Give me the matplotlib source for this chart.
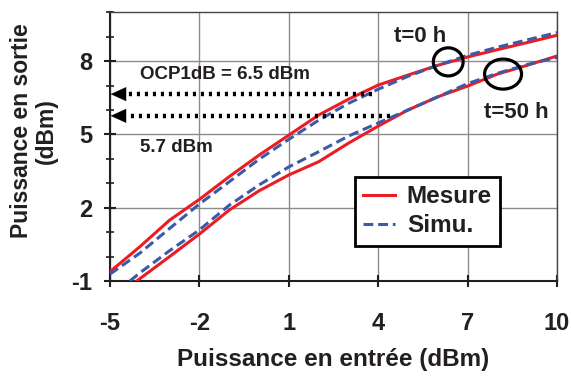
import numpy as np
import matplotlib.pyplot as plt
from matplotlib.patches import Ellipse

plt.rcParams['font.family'] = ['Liberation Sans', 'DejaVu Sans']
plt.rcParams['font.weight'] = 'bold'
plt.rcParams['axes.labelweight'] = 'bold'
plt.rcParams['axes.unicode_minus'] = False

# Data
x_in = [-5, -4, -3, -2, -1, 0, 1, 2, 3, 4, 5, 6, 7, 8, 9, 10]

mes_t0 = [-0.62, 0.40, 1.49, 2.34, 3.27, 4.15, 4.97, 5.79, 6.44, 7.02, 7.43, 7.83, 8.17, 8.47, 8.76, 9.06]
sim_t0 = [-0.72, 0.14, 1.15, 2.15, 3.06, 3.98, 4.80, 5.58, 6.27, 6.85, 7.38, 7.83, 8.24, 8.57, 8.87, 9.17]

x_t50_mes = [-4.1, -3, -2, -1, 0, 1, 2, 3, 4, 5, 6, 7, 8, 9, 10]
mes_t50 = [-1.0, 0.0, 0.92, 1.90, 2.69, 3.34, 3.88, 4.64, 5.34, 6.00, 6.54, 6.98, 7.47, 7.83, 8.21]
x_t50_sim = [-4.33, -4, -3, -2, -1, 0, 1, 2, 3, 4, 5, 6, 7, 8, 9, 10]
sim_t50 = [-1.0, -0.67, 0.24, 1.09, 2.10, 2.93, 3.67, 4.29, 4.93, 5.47, 6.00, 6.54, 7.08, 7.50, 7.86, 8.15]

# OCP1dB arrows: (level, start x)
ocp_levels = [6.65, 5.76]
ocp_starts = [3.78, 4.4]

red = '#ec1c24'
blue = '#3b5ba8'
txt = '#231f20'

fig = plt.figure(figsize=(5.71, 3.76), dpi=100)
ax = fig.add_axes([0.1926, 0.2527, 0.7829, 0.7146])

ax.plot(x_in, mes_t0, color=red, lw=2.2, label='Mesure', zorder=3)
ax.plot(x_in, sim_t0, color=blue, lw=2.2, dashes=(3.2, 1.6), label='Simu.', zorder=4)
ax.plot(x_t50_mes, mes_t50, color=red, lw=2.2, zorder=3)
ax.plot(x_t50_sim, sim_t50, color=blue, lw=2.2, dashes=(3.2, 1.6), zorder=4)

# dotted arrows towards the y axis
for lev, xs in zip(ocp_levels, ocp_starts):
    ax.plot([xs, -4.5], [lev, lev], color='black', lw=3.2, linestyle=(0, (0.7, 1.1)),
            zorder=5, clip_on=False)
    ax.annotate('', xy=(-5.07, lev), xytext=(-4.45, lev),
                arrowprops=dict(arrowstyle='-|>,head_length=1.1,head_width=0.5',
                                color='black', lw=0.1), annotation_clip=False, zorder=6)

ax.text(-4.0, 7.45, 'OCP1dB = 6.5 dBm', fontsize=13.5, color=txt, va='center', ha='left')
ax.text(-4.0, 4.46, '5.7 dBm', fontsize=13.5, color=txt, va='center', ha='left')
ax.text(5.4, 9.0, 't=0 h', fontsize=16, color=txt, va='center', ha='center')
ax.text(8.62, 5.91, 't=50 h', fontsize=16, color=txt, va='center', ha='center')

ax.add_patch(Ellipse((6.35, 7.97), 1.0, 1.15, fill=False, ec='black', lw=2.3, zorder=7))
ax.add_patch(Ellipse((8.19, 7.47), 1.24, 1.23, fill=False, ec='black', lw=2.3, zorder=7))

ax.set_xlim(-5, 10)
ax.set_ylim(-1, 10)
ax.set_xticks([-5, -2, 1, 4, 7, 10])
ax.set_yticks([-1, 2, 5, 8])
ax.set_yticks(np.arange(-1, 11, 1), minor=True)
ax.grid(True, color='#8c8c8c', lw=1.0)
ax.set_axisbelow(True)

for s in ['left', 'bottom']:
    ax.spines[s].set_color('#231f20')
    ax.spines[s].set_linewidth(1.5)
for s in ['top', 'right']:
    ax.spines[s].set_color('#444444')
    ax.spines[s].set_linewidth(1.0)

ax.tick_params(axis='both', which='major', direction='inout', length=9, width=1.5,
               colors='#231f20', labelsize=17, labelcolor=txt)
ax.tick_params(axis='y', which='minor', direction='inout', length=6, width=1.2, colors='#231f20')
ax.tick_params(axis='x', pad=18)
ax.tick_params(axis='y', pad=8)
for lbl in ax.get_xticklabels() + ax.get_yticklabels():
    lbl.set_fontweight('bold')

ax.set_xlabel('Puissance en entrée (dBm)', fontsize=17.5, color=txt, labelpad=9)
ax.set_ylabel('Puissance en sortie\n(dBm)', fontsize=16.5, color=txt, labelpad=10, linespacing=1.1)
ax.yaxis.label.set_y(0.558)

leg = ax.legend(loc='lower left', bbox_to_anchor=(0.52, 0.085), fontsize=17.5,
                frameon=True, fancybox=False, handlelength=1.3, handletextpad=0.5,
                borderpad=0.35, labelspacing=0.25, framealpha=1)
leg.get_frame().set_edgecolor('black')
leg.get_frame().set_linewidth(2.0)
for t in leg.get_texts():
    t.set_color(txt)

fig.savefig('out.png', dpi=100)
